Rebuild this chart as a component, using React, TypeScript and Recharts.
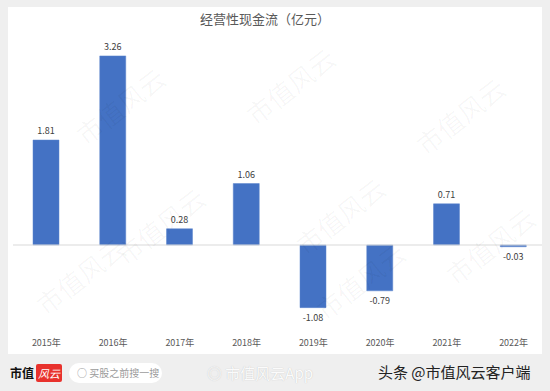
import React from "react";
import { BarChart, Bar, XAxis, YAxis, ReferenceLine, LabelList } from "recharts";

const years = ["2015年", "2016年", "2017年", "2018年", "2019年", "2020年", "2021年", "2022年"];
const cashFlow = [1.81, 3.26, 0.28, 1.06, -1.08, -0.79, 0.71, -0.03];

const data = years.map((year, i) => ({ year, value: cashFlow[i] }));

const FONT = '"Noto Sans CJK SC", "Noto Sans", sans-serif';

const ValueLabel = (props: any) => {
  const { x, y, width, height, value } = props;
  const top = Math.min(y, y + height);
  const bottom = Math.max(y, y + height);
  const cx = x + width / 2;
  const ty = value >= 0 ? top - 6 : bottom + 13;
  return (
    <text x={cx} y={ty} textAnchor="middle" fontSize={9} fill="#404040" fontFamily={FONT}>
      {value.toFixed(2)}
    </text>
  );
};

// faint diagonal watermarks
const marks = [
  [60, 80], [230, 60], [400, 90],
  [100, 200], [280, 190], [430, 220],
  [20, 250], [300, 255],
];

export default function App() {
  return (
    <div style={{ position: "absolute", left: 0, top: 0, width: 550, height: 391, background: "#efefef", overflow: "hidden", fontFamily: FONT }}>
      <div style={{ position: "absolute", left: 8, top: 7, width: 534, height: 347, background: "#ffffff", overflow: "hidden" }}>
        <div style={{ position: "absolute", left: -8, top: -7, width: 550, height: 354 }}>
          <BarChart width={550} height={354} data={data} margin={{ top: 42, right: 3, bottom: 0, left: 13 }}>
            <XAxis dataKey="year" axisLine={false} tickLine={false} height={22} interval={0}
              tick={{ fontSize: 9, fill: "#595959", fontFamily: FONT }} />
            <YAxis hide domain={[-1.5, 3.5]} />
            <ReferenceLine y={0} stroke="#d9d9d9" strokeWidth={1} />
            <Bar dataKey="value" fill="#4472C4" stroke="#5b84cc" strokeWidth={0.5} barSize={26} isAnimationActive={false}>
              <LabelList dataKey="value" content={ValueLabel} />
            </Bar>
          </BarChart>
          <div style={{ position: "absolute", left: 0, top: 9, width: 530, textAlign: "center", fontSize: 13, color: "#595959" }}>
            经营性现金流（亿元）
          </div>
        </div>
        {marks.map(([x, y], i) => (
          <div key={i} style={{ position: "absolute", left: x, top: y, fontSize: 26, color: "rgba(0,0,0,0.035)", transform: "rotate(-38deg)", whiteSpace: "nowrap", pointerEvents: "none" }}>
            市值风云
          </div>
        ))}
      </div>
      <div style={{ position: "absolute", left: 10, top: 364, fontSize: 12, fontWeight: 700, color: "#111", lineHeight: "18px" }}>
        市值
      </div>
      <div style={{ position: "absolute", left: 36, top: 364, width: 26, height: 18, background: "#e8322d", borderRadius: 2, color: "#fff", fontSize: 11, fontStyle: "italic", lineHeight: "18px", textAlign: "center" }}>
        风云
      </div>
      <div style={{ position: "absolute", left: 69, top: 363, width: 93, height: 20, background: "#fff", borderRadius: 10, fontSize: 10, color: "#9a9a9a", lineHeight: "20px", paddingLeft: 8, boxSizing: "border-box", whiteSpace: "nowrap" }}>
        ○ 买股之前搜一搜
      </div>
      <div style={{ position: "absolute", left: 207, top: 362, fontSize: 15, color: "rgba(255,255,255,0.95)", textShadow: "0 0 1px #bbb", whiteSpace: "nowrap" }}>
        ◎ 市值风云App
      </div>
      <div style={{ position: "absolute", left: 378, top: 361, fontSize: 15, color: "#222", whiteSpace: "nowrap" }}>
        头条 @市值风云客户端
      </div>
    </div>
  );
}
